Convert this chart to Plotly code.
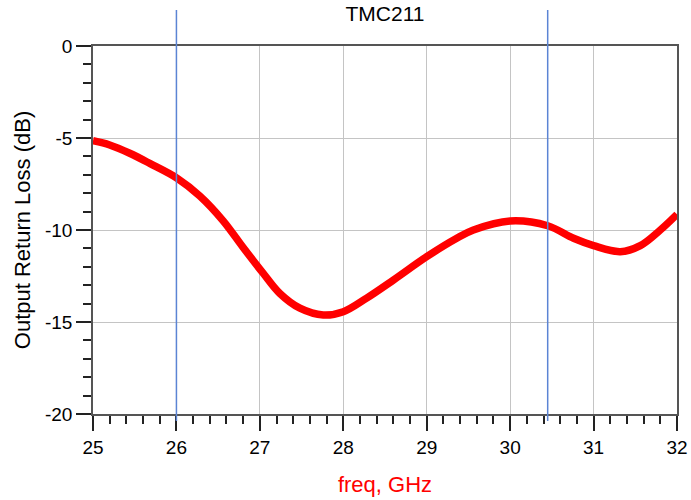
import plotly.graph_objects as go

# S22 readings for TMC211 (freq in GHz, return loss in dB)
freq = [25.0, 25.2, 25.44, 25.68, 26.01, 26.28, 26.56, 26.8, 27.04, 27.24,
        27.48, 27.76, 28.0, 28.28, 28.6, 29.0, 29.36, 29.56, 30.0,
        30.45, 30.76, 31.0, 31.32, 31.56, 31.8, 32.0]
s22_db = [-5.15, -5.38, -5.83, -6.38, -7.19, -8.15, -9.5, -10.95, -12.35, -13.45,
          -14.25, -14.62, -14.44, -13.7, -12.72, -11.45, -10.45, -10.0, -9.51,
          -9.77, -10.45, -10.85, -11.18, -10.85, -10.0, -9.15]

markers = [26.0, 30.45]

x_ticks = [25, 26, 27, 28, 29, 30, 31, 32]
y_ticks = [0, -5, -10, -15, -20]
y_tick_text = ["0", "-5", "-10", "-15", "-20"]

font = "Liberation Sans, Arial, sans-serif"

fig = go.Figure()
fig.add_trace(go.Scatter(x=freq, y=s22_db, mode="lines",
                         line=dict(color="#ff0000", width=7.5, shape="spline", smoothing=1.0),
                         showlegend=False, hoverinfo="skip"))

# marker lines, sticking out above the plot
for m in markers:
    fig.add_shape(type="line", x0=m, x1=m, xref="x", y0=-0.019, y1=1.098, yref="paper",
                  line=dict(color="#5b84d4", width=1.5), layer="above")

fig.update_layout(
    width=691, height=500,
    margin=dict(l=93, r=14, t=46, b=86, autoexpand=False),
    paper_bgcolor="white", plot_bgcolor="white",
    font=dict(family=font, size=19, color="black"),
    showlegend=False,
    title=dict(text="TMC211", x=0.5, xref="paper", y=1 - 14 / 500, yanchor="middle",
               font=dict(size=21, color="black")),
)

fig.update_xaxes(range=[25, 32], tickmode="array", tickvals=x_ticks,
                 ticks="outside", ticklen=15, tickwidth=1.5, tickcolor="#222",
                 showline=True, linecolor="#555", linewidth=1.5, mirror=True,
                 showgrid=True, gridcolor="#c4c4c4", gridwidth=1, zeroline=False,
                 automargin=False,
                 minor=dict(dtick=0.2, tick0=25, ticks="outside", ticklen=8, tickwidth=1.5,
                            tickcolor="#222", showgrid=False),
                 title=dict(text="freq, GHz", font=dict(size=22, color="#ff0000"), standoff=20))

fig.update_yaxes(range=[-20, 0], tickmode="array", tickvals=y_ticks, ticktext=y_tick_text,
                 ticks="outside", ticklen=15, tickwidth=1.5, tickcolor="#222",
                 showline=True, linecolor="#555", linewidth=1.5, mirror=True,
                 showgrid=True, gridcolor="#c4c4c4", gridwidth=1, zeroline=False,
                 automargin=False,
                 minor=dict(dtick=1, tick0=0, ticks="outside", ticklen=8, tickwidth=1.5,
                            tickcolor="#222", showgrid=False),
                 title=dict(text="Output Return Loss (dB)", font=dict(size=22, color="black"),
                            standoff=8))

# drop the default page margin so the figure sits at the window's corner
fig.write_html("out.html", config={"displayModeBar": False},
               post_script="document.body.style.margin='0px';")
